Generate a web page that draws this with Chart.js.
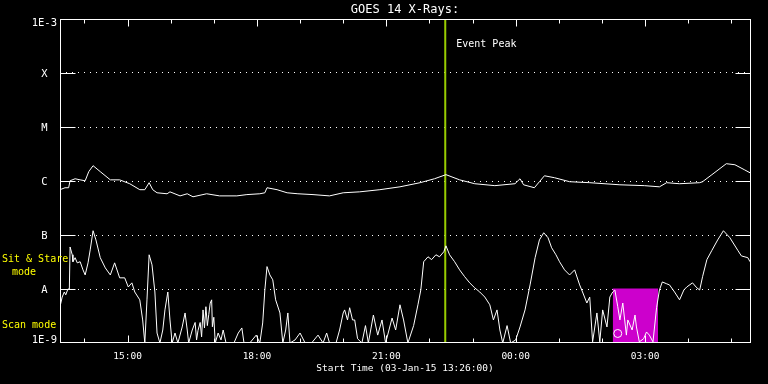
<!DOCTYPE html>
<html>
<head>
<meta charset="utf-8">
<script src="https://cdn.jsdelivr.net/npm/chart.js@4.4.1/dist/chart.umd.min.js"></script>
<style>
  html, body { margin: 0; padding: 0; background: #000; }
  #wrap { width: 768px; height: 384px; }
</style>
</head>
<body>
<div id="wrap"><canvas id="goesChart"></canvas></div>
<script>
// time values are minutes after the plot start (03-Jan-15 13:26:00)
const startMinuteOfDay = 13 * 60 + 26;
const spanMinutes = 960;
const hourTicks = [34, 94, 154, 214, 274, 334, 394, 454, 514, 574, 634, 694, 754, 814, 874, 934];
const labelledHours = [15, 18, 21, 0, 3];

// flux levels on the left axis (W/m^2)
const levelValues = [1e-9, 1e-8, 1e-7, 1e-6, 1e-5, 1e-4, 1e-3];
const levelLabels = ['1E-9', 'A', 'B', 'C', 'M', 'X', '1E-3'];

// 1-8 A channel (upper trace)
const longMin = [0, 7, 12, 14, 21, 28, 35, 40, 46, 56,
  70, 83, 97, 111, 118, 124, 129, 135, 149, 153,
  167, 177, 185, 204, 222, 246, 260, 278, 285, 288,
  295, 302, 316, 331, 352, 375, 394, 417, 445, 473,
  501, 521, 537, 556, 577, 605, 633, 640, 645, 660,
  667, 674, 688, 709, 737, 779, 813, 834, 844, 862,
  890, 894, 907, 927, 939, 952, 960];
const longFlux = [6.9e-7, 7.5e-7, 7.5e-7, 1.01e-6, 1.10e-6, 1.05e-6, 1.01e-6, 1.49e-6, 1.92e-6, 1.49e-6,
  1.05e-6, 1.05e-6, 8.9e-7, 6.9e-7, 6.9e-7, 9.3e-7, 6.9e-7, 6.05e-7, 5.8e-7, 6.3e-7,
  5.3e-7, 5.8e-7, 5.1e-7, 5.8e-7, 5.3e-7, 5.3e-7, 5.6e-7, 5.8e-7, 6.05e-7, 7.5e-7,
  7.2e-7, 6.9e-7, 6.05e-7, 5.8e-7, 5.6e-7, 5.3e-7, 6.05e-7, 6.3e-7, 6.9e-7, 7.8e-7,
  9.3e-7, 1.10e-6, 1.31e-6, 1.05e-6, 8.9e-7, 8.2e-7, 8.9e-7, 1.10e-6, 8.5e-7, 7.5e-7,
  9.7e-7, 1.25e-6, 1.15e-6, 9.7e-7, 9.3e-7, 8.5e-7, 8.2e-7, 7.8e-7, 9.3e-7, 8.9e-7,
  9.3e-7, 9.7e-7, 1.31e-6, 2.09e-6, 2.0e-6, 1.62e-6, 1.42e-6];

// 0.5-4 A channel (lower trace)
const shortMin = [0, 3, 6, 8, 11, 13, 14, 17, 18, 21,
  24, 28, 32, 35, 39, 42, 46, 50, 56, 63,
  70, 76, 83, 90, 95, 100, 104, 111, 115, 118,
  121, 124, 128, 132, 135, 139, 143, 146, 150, 153,
  156, 160, 164, 170, 174, 177, 179, 184, 188, 190,
  192, 195, 197, 199, 201, 203, 205, 207, 209, 211,
  212, 214, 216, 220, 224, 227, 231, 242, 248, 253,
  256, 264, 273, 278, 282, 285, 288, 292, 296, 300,
  306, 310, 314, 317, 320, 327, 334, 341, 350, 359,
  366, 371, 375, 384, 389, 394, 396, 400, 403, 407,
  410, 414, 420, 425, 429, 436, 442, 448, 453, 462,
  467, 473, 478, 484, 492, 498, 502, 506, 512, 517,
  523, 528, 534, 537, 542, 549, 556, 563, 570, 577,
  584, 591, 598, 603, 608, 612, 616, 622, 627, 634,
  640, 647, 654, 661, 667, 673, 679, 684, 690, 695,
  702, 709, 716, 723, 727, 733, 737, 741, 747, 751,
  755, 761, 765, 769, 772, 776, 779, 783, 788, 790,
  796, 800, 802, 806, 812, 816, 820, 825, 830, 834,
  838, 844, 848, 855, 862, 868, 872, 880, 886, 890,
  894, 900, 907, 915, 923, 932, 943, 948, 957, 960];
const shortFlux = [4.7e-9, 7.1e-9, 8.8e-9, 7.8e-9, 1.0e-8, 1.0e-8, 6.0e-8, 4.3e-8, 3.2e-8, 3.8e-8,
  3.05e-8, 3.2e-8, 2.26e-8, 1.82e-8, 3.05e-8, 5.3e-8, 1.2e-7, 8.1e-8, 3.8e-8, 2.46e-8,
  1.82e-8, 3.05e-8, 1.61e-8, 1.61e-8, 1.09e-8, 1.3e-8, 8.8e-9, 6.3e-9, 2.67e-9, 1e-9,
  6.3e-9, 4.3e-8, 2.8e-8, 8.8e-9, 1.53e-9, 1e-9, 1.74e-9, 4.1e-9, 8.8e-9, 2.67e-9,
  1e-9, 1.53e-9, 1e-9, 1.98e-9, 3.6e-9, 1.74e-9, 1e-9, 1.74e-9, 2.4e-9, 1.14e-9,
  1.7e-9, 2.4e-9, 1.3e-9, 4.1e-9, 1.9e-9, 4.7e-9, 2.1e-9, 3.4e-9, 5.5e-9, 6.3e-9,
  2.0e-9, 3.0e-9, 1e-9, 1.53e-9, 1.14e-9, 1.74e-9, 1e-9, 1e-9, 1.53e-9, 1.9e-9,
  1e-9, 1e-9, 1.4e-9, 1e-9, 2.35e-9, 9.6e-9, 2.6e-8, 1.82e-8, 1.48e-8, 6.3e-9,
  3.6e-9, 1e-9, 1.74e-9, 3.6e-9, 1e-9, 1.14e-9, 1.53e-9, 1e-9, 1e-9, 1.4e-9,
  1e-9, 1.53e-9, 1e-9, 1e-9, 1.74e-9, 3.6e-9, 4.1e-9, 2.67e-9, 4.5e-9, 2.67e-9,
  2.67e-9, 1.2e-9, 1e-9, 2.1e-9, 1e-9, 3.3e-9, 1.4e-9, 2.67e-9, 1e-9, 2.9e-9,
  1.74e-9, 5.1e-9, 2.67e-9, 1e-9, 2.1e-9, 5.1e-9, 9.6e-9, 3.2e-8, 3.95e-8, 3.5e-8,
  4.3e-8, 3.95e-8, 4.9e-8, 6.3e-8, 4.3e-8, 3.2e-8, 2.26e-8, 1.69e-8, 1.3e-8, 1.05e-8,
  8.8e-9, 7.1e-9, 5.1e-9, 2.67e-9, 4.1e-9, 1.74e-9, 1e-9, 2.1e-9, 1e-9, 1.14e-9,
  1.98e-9, 4.1e-9, 1.19e-8, 3.8e-8, 8.1e-8, 1.1e-7, 8.9e-8, 5.8e-8, 4.3e-8, 3.2e-8,
  2.26e-8, 1.82e-8, 2.26e-8, 1.19e-8, 8.8e-9, 5.5e-9, 7.1e-9, 1.05e-9, 3.6e-9, 1.05e-9,
  4.1e-9, 1.98e-9, 7.1e-9, 8.8e-9, 9.6e-9, 4.7e-9, 2.67e-9, 5.5e-9, 1.4e-9, 2.67e-9,
  1.74e-9, 3.3e-9, 1.98e-9, 1.05e-9, 1.2e-9, 1.6e-9, 1.4e-9, 1.05e-9, 4.5e-9, 9.6e-9,
  1.35e-8, 1.25e-8, 1.19e-8, 8.8e-9, 6.3e-9, 9.6e-9, 1.09e-8, 1.3e-8, 1.05e-8, 9.6e-9,
  1.69e-8, 3.5e-8, 5.2e-8, 8.1e-8, 1.2e-7, 8.9e-8, 5.2e-8, 4.1e-8, 3.8e-8, 3.2e-8];

const eventPeakMin = 536;
const scanWindowMin = [769, 832];
const scanWindowTop = 1e-8;
const markerMin = [776];
const markerFlux = [1.5e-9];

const mono = 'DejaVu Sans Mono';

function toPoints(xs, ys) {
  return xs.map((v, i) => ({ x: v, y: ys[i] }));
}

function clockLabel(value) {
  const m = (startMinuteOfDay + value) % 1440;
  const h = Math.floor(m / 60);
  if (m % 60 !== 0 || !labelledHours.includes(h)) return '';
  return String(h).padStart(2, '0') + ':00';
}

// end labels sit a little inside the frame, as in the IDL plot
function levelLabel(index) {
  const text = levelLabels[index];
  if (index === 0) return [text, ''];
  if (index === levelLabels.length - 1) return ['', text];
  return text;
}

// box, inward tick marks and the free text of the IDL plot
const goesFrame = {
  id: 'goesFrame',
  afterDraw(chart) {
    const { ctx, chartArea: a, scales: { x, y } } = chart;
    const L = Math.floor(a.left) + 0.5;
    const R = Math.floor(a.right) + 0.5;
    const T = Math.floor(a.top) + 0.5;
    const B = Math.round(a.bottom) - 0.5;
    ctx.save();
    ctx.strokeStyle = '#fff';
    ctx.lineWidth = 1;
    ctx.strokeRect(L, T, R - L, B - T);
    ctx.beginPath();
    x.ticks.forEach(t => {
      const px = Math.round(x.getPixelForValue(t.value)) + 0.5;
      const len = t.label ? 7 : 4;
      ctx.moveTo(px, T); ctx.lineTo(px, T + len);
      ctx.moveTo(px, B); ctx.lineTo(px, B - len);
    });
    levelValues.slice(1, -1).forEach(v => {
      const py = Math.round(y.getPixelForValue(v)) + 0.5;
      ctx.moveTo(L, py); ctx.lineTo(L + 15, py);
      ctx.moveTo(R, py); ctx.lineTo(R - 15, py);
    });
    ctx.stroke();

    ctx.font = '10px "' + mono + '"';
    ctx.textBaseline = 'alphabetic';
    ctx.fillStyle = '#fff';
    ctx.textAlign = 'left';
    ctx.fillText('Event Peak', x.getPixelForValue(eventPeakMin) + 11, 47);

    ctx.fillStyle = '#ffff00';
    ctx.fillText('Sit & Stare', 2, 262);
    ctx.fillText('Scan mode', 2, 328);
    ctx.textAlign = 'center';
    ctx.fillText('mode', 24, 275);
    ctx.restore();
  }
};

function createGoesChart() {
  const canvas = document.getElementById('goesChart');
  if (!canvas) return;
  new Chart(canvas, {
    type: 'line',
    data: {
      datasets: [
        {
          label: 'Long',
          data: toPoints(longMin, longFlux),
          borderColor: '#ffffff',
          borderWidth: 1,
          pointRadius: 0,
          tension: 0,
          order: 1
        },
        {
          label: 'Short',
          data: toPoints(shortMin, shortFlux),
          borderColor: '#ffffff',
          borderWidth: 1,
          pointRadius: 0,
          tension: 0,
          order: 1
        },
        {
          label: 'Marker',
          data: toPoints(markerMin, markerFlux),
          showLine: false,
          pointStyle: 'circle',
          pointRadius: 4,
          pointBorderColor: '#ffffff',
          pointBackgroundColor: 'rgba(0,0,0,0)',
          pointBorderWidth: 1,
          order: 0
        },
        {
          label: 'Event Peak',
          data: [{ x: eventPeakMin, y: levelValues[0] }, { x: eventPeakMin, y: levelValues[6] }],
          borderColor: '#99cc00',
          borderWidth: 2,
          pointRadius: 0,
          order: 2
        },
        {
          label: 'Scan window',
          data: [{ x: scanWindowMin[0], y: scanWindowTop }, { x: scanWindowMin[1], y: scanWindowTop }],
          borderColor: '#cc00cc',
          backgroundColor: '#cc00cc',
          borderWidth: 1,
          pointRadius: 0,
          fill: 'start',
          order: 3
        }
      ]
    },
    options: {
      responsive: true,
      maintainAspectRatio: false,
      animation: false,
      layout: { padding: { left: 0, right: 18, top: 0, bottom: 0 } },
      plugins: {
        legend: { display: false },
        tooltip: { enabled: false },
        title: {
          display: true,
          fullSize: false,
          text: 'GOES 14 X-Rays:',
          color: '#ffffff',
          font: { family: mono, size: 12, weight: 'normal', lineHeight: 1.2 },
          padding: { top: 3, bottom: 1.6 }
        }
      },
      scales: {
        x: {
          type: 'linear',
          min: 0,
          max: spanMinutes,
          afterBuildTicks: scale => { scale.ticks = hourTicks.map(v => ({ value: v })); },
          afterFit: scale => { scale.height = 41; },
          grid: { display: false, drawTicks: false },
          border: { display: false },
          ticks: {
            autoSkip: false,
            maxRotation: 0,
            padding: 8,
            color: '#ffffff',
            font: { family: mono, size: 9.5 },
            callback: value => clockLabel(value)
          },
          title: {
            display: true,
            text: 'Start Time (03-Jan-15 13:26:00)',
            color: '#ffffff',
            font: { family: mono, size: 9.5 },
            padding: { top: 0, bottom: 10 }
          }
        },
        y: {
          type: 'logarithmic',
          min: levelValues[0],
          max: levelValues[6],
          afterBuildTicks: scale => { scale.ticks = levelValues.map(v => ({ value: v })); },
          afterFit: scale => { scale.width = 60; },
          grid: {
            drawTicks: false,
            color: c => (c.index > 0 && c.index < 6) ? '#ffffff' : 'rgba(0,0,0,0)'
          },
          border: { display: false, dash: [1, 5] },
          ticks: {
            crossAlign: 'center',
            padding: 3,
            labelOffset: 1,
            color: '#ffffff',
            font: { family: mono, size: 10.5, lineHeight: 0.7 },
            callback: (value, index) => levelLabel(index)
          }
        }
      }
    },
    plugins: [goesFrame]
  });
}

document.addEventListener('DOMContentLoaded', () => {
  createGoesChart();
});
</script>
</body>
</html>
